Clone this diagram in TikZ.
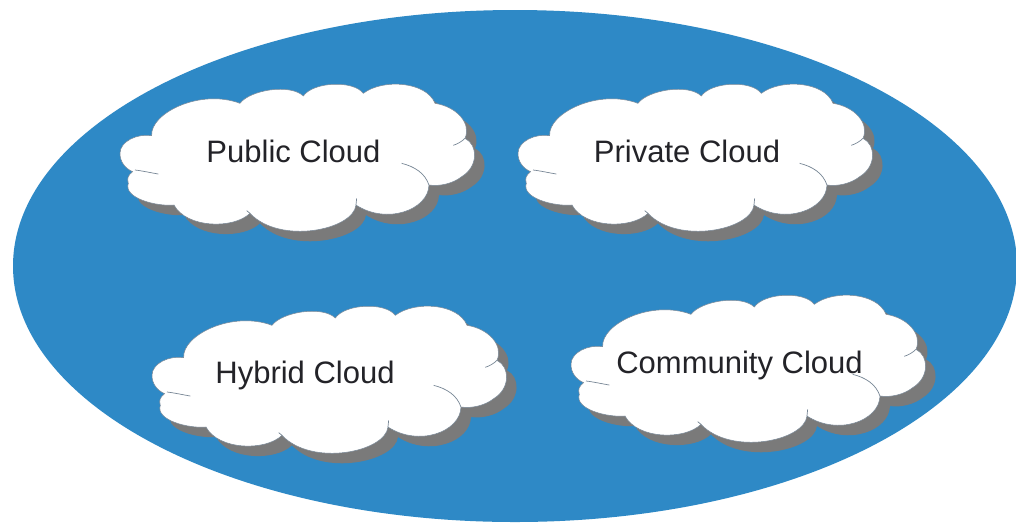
\documentclass[tikz,border=0pt]{standalone}
\usepackage{fontspec}
\setmainfont{Liberation Sans}
\definecolor{ovalblue}{RGB}{46,137,198}
\definecolor{cloudshadow}{RGB}{122,122,122}
\definecolor{cloudline}{RGB}{120,135,150}
\definecolor{cloudtext}{RGB}{35,35,40}
% cloud outline in 1/3-pixel units, relative to the cloud's own corner
\newcommand{\cloudoutline}{(60,250)
 .. controls (60,215) and (110,190) .. (155,197)
 .. controls (150,130) and (300,55) .. (420,100)
 .. controls (450,60) and (570,40) .. (610,78)
 .. controls (640,35) and (760,30) .. (790,70)
 .. controls (850,25) and (980,35) .. (1005,100)
 .. controls (1070,110) and (1115,160) .. (1095,205)
 .. controls (1135,225) and (1135,290) .. (1085,320)
 .. controls (1060,340) and (1020,350) .. (987,345)
 .. controls (985,420) and (860,465) .. (768,405)
 .. controls (760,480) and (540,525) .. (450,430)
 .. controls (400,478) and (260,475) .. (222,405)
 .. controls (170,410) and (70,385) .. (85,340)
 .. controls (80,325) and (85,315) .. (98,305)
 .. controls (75,295) and (60,275) .. (60,250) -- cycle}
\tikzset{
 x=1pt,y=-1pt,
 oval/.style={fill=ovalblue,draw=none,inner sep=0pt,outer sep=0pt},
 shadowshape/.style={fill=cloudshadow,draw=none},
 cloudshape/.style={fill=white,draw=cloudline,line width=0.5pt},
 creaseline/.style={draw=cloudline,line width=0.7pt},
 cloudlabel/.style={font=\fontsize{31}{36}\selectfont,text=cloudtext,inner sep=0pt,anchor=base},
 cloudpic/.pic={
  \begin{scope}[x=0.3333pt,y=-0.3333pt]
   \path[shadowshape] [shift={(30,30)}] \cloudoutline;
   \path[cloudshape] \cloudoutline;
   \draw[creaseline] (105,300) .. controls (130,303) and (150,308) .. (175,312);
   \draw[creaseline] (905,280) .. controls (945,290) and (975,310) .. (987,345);
   \draw[creaseline] (1095,205) .. controls (1085,215) and (1072,222) .. (1060,226);
   \draw[creaseline] (768,405) -- (770,385);
   \draw[creaseline] (450,430) -- (440,422);
  \end{scope}
 }
}
\begin{document}
\begin{tikzpicture}
\useasboundingbox (0,0) rectangle (1016,523);
\fill[white] (0,0) rectangle (1016,523);
\fill[ovalblue] (515,266) ellipse [x radius=502,y radius=256];
\pic at (100,70) {cloudpic};
\pic at (498,70) {cloudpic};
\pic at (132,292) {cloudpic};
\pic at (551,281) {cloudpic};
\node[cloudlabel] (pub) at (293.5,162) {Public Cloud};
\node[cloudlabel] (pri) at (687,162) {Private Cloud};
\node[cloudlabel] (hyb) at (305,383) {Hybrid Cloud};
\node[cloudlabel] (com) at (739.5,373) {Community Cloud};
\end{tikzpicture}
\end{document}
